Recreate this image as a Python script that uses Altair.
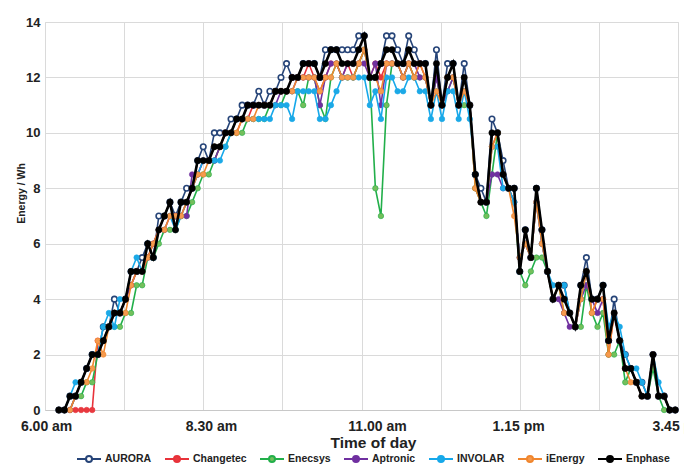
import altair as alt
import pandas as pd

# ---- data ----
series_names = ["AURORA", "Changetec", "Enecsys", "Aptronic", "INVOLAR", "iEnergy", "Enphase"]
line_colors = ["#264478", "#E8323A", "#22AF4A", "#7030A0", "#16A8EA", "#F0862E", "#000000"]
fill_colors = ["#FFFFFF", "#E8393F", "#74BF5C", "#7030A0", "#1CA9E6", "#F59A4E", "#000000"]

# category slot of each reading on the time axis (2 empty slots before the first)
slots = list(range(2, 114))

aurora = [0, 0, 0.5, 0.5, 1, 1.5, 2, 2, 3, 3,
          4, 3.5, 4, 5, 5, 5.5, 6, 5.5, 7, 7,
          7.5, 7, 7.5, 8, 8, 9, 9.5, 9, 10, 10,
          10, 10.5, 10.5, 11, 11, 11, 11.5, 11, 11.5, 11.5,
          12, 12.5, 12, 12, 12.5, 12.5, 12.5, 12, 13, 13,
          13, 13, 13, 13, 13.5, 13.5, 12, 12, 12.5, 13.5,
          13.5, 13, 12.5, 13.5, 13, 12.5, 12.5, 11, 13, 11,
          12.5, 12.5, 11, 12.5, 11, 8.5, 8, 7.5, 10.5, 10,
          9, 8, 8, 5, 6.5, 5.5, 8, 6.5, 5, 4,
          4.5, 4.5, 3.5, 3, 4.5, 5.5, 4, 4, 4.5, 2.5,
          4, 2.5, 2, 1.5, 1, 1, 0.5, 2, 0.5, 0.5,
          0, 0]
changetec = [0, 0, 0, 0, 0, 0, 0, 2.5, 2.5, 3,
             3.5, 3.5, 4, 4.5, 5, 5, 5.5, 6, 6.5, 7,
             7, 7, 7, 7.5, 8, 8.5, 9, 9, 9, 9.5,
             10, 10, 10, 10.5, 10.5, 11, 11, 11, 11, 11.5,
             11.5, 11.5, 12, 12, 12, 12.5, 12, 11.5, 12, 12.5,
             12.5, 12, 12.5, 12, 12.5, 13, 12, 12.5, 12, 12.5,
             12.5, 12.5, 12, 12.5, 12, 12.5, 12, 11, 12, 11,
             12, 12, 11, 11.5, 11, 8, 7.5, 7.5, 9.5, 10,
             8.5, 8, 7.5, 5.5, 6, 5.5, 7.5, 6, 5, 4,
             4.5, 4, 3.5, 3, 4, 5, 3.5, 4, 4, 2,
             3.5, 2.5, 1.5, 1.5, 1, 0.5, 0.5, 2, 0.5, 0.5,
             0, 0]
enecsys = [0, 0, 0, 0.5, 0.5, 1, 1, 2, 2.5, 3,
           3, 3, 3.5, 3.5, 4.5, 4.5, 5.5, 5.5, 6, 6.5,
           6.5, 6.5, 7, 7, 7.5, 8, 8.5, 8.5, 9, 9.5,
           9.5, 10, 10, 10, 10.5, 10.5, 10.5, 10.5, 11, 11,
           11, 11.5, 11.5, 11.5, 11, 12, 12, 11, 10.5, 12,
           12.5, 12, 12, 12, 12.5, 13, 12, 8, 7, 11,
           12.5, 12.5, 12, 12.5, 12, 12, 12, 11, 12, 11,
           11.5, 12, 11, 11, 11, 8, 7.5, 7, 8.5, 10,
           8.5, 8, 7.5, 5, 4.5, 5, 5.5, 5.5, 5, 4,
           4.5, 3.5, 3.5, 3, 3, 4.5, 3.5, 3, 3.5, 2,
           2, 2.5, 1, 1.5, 1, 0.5, 0.5, 1.5, 0.5, 0,
           0, 0]
aptronic = [0, 0, 0, 0.5, 1, 1.5, 2, 2, 2.5, 3,
            3.5, 3.5, 4, 4.5, 5, 5, 5.5, 6, 6.5, 6.5,
            7, 7, 7, 7, 8.5, 8.5, 9, 9, 9, 9.5,
            10, 10, 10.5, 10.5, 11, 11, 11, 11, 11, 11,
            11.5, 11.5, 11.5, 12, 12, 12, 12, 11, 12, 12.5,
            12.5, 12, 12.5, 12.5, 12.5, 12.5, 12, 12.5, 11, 12.5,
            12.5, 12.5, 12, 12.5, 12.5, 12, 12, 11, 12, 11,
            11.5, 12, 11, 11.5, 11, 8.5, 7.5, 7.5, 8.5, 8.5,
            8, 8, 7.5, 5.5, 6, 5.5, 7.5, 6, 5, 4,
            4, 3.5, 3, 3, 4, 4.5, 4, 3.5, 4, 2.5,
            3.5, 2.5, 1.5, 1.5, 1, 0.5, 0.5, 2, 0.5, 0.5,
            0, 0]
involar = [0, 0, 0.5, 1, 1, 1.5, 2, 2, 3, 3.5,
           3, 4, 4, 5, 5.5, 5, 6, 5.5, 6.5, 7,
           7, 6.5, 7, 7.5, 8, 8.5, 9, 9, 9, 9,
           9.5, 10, 10.5, 10.5, 10.5, 10.5, 10.5, 10.5, 10.5, 11,
           11, 11, 10.5, 11.5, 11.5, 11.5, 11.5, 10.5, 10.5, 11,
           11.5, 12, 12, 12, 12, 12, 11, 11.5, 10.5, 12,
           12, 11.5, 11.5, 12, 12, 11.5, 11.5, 10.5, 11.5, 10.5,
           11.5, 11.5, 10.5, 11.5, 10.5, 8.5, 7.5, 7.5, 9.5, 9.5,
           8, 8, 7.5, 5.5, 6, 5.5, 7.5, 6, 5, 4.5,
           4.5, 4.5, 3.5, 3, 4, 5, 4, 4, 4.5, 3,
           3.5, 3, 2, 1.5, 1.5, 1, 0.5, 2, 1, 0.5,
           0, 0]
ienergy = [0, 0, 0, 0.5, 1, 1, 1.5, 2.5, 2, 3,
           3.5, 3.5, 3.5, 4.5, 5, 5, 5.5, 6, 6.5, 6.5,
           7, 7, 7, 7.5, 8, 8.5, 8.5, 9, 9.5, 9.5,
           10, 10, 10, 10.5, 10.5, 10.5, 11, 11, 11, 11.5,
           11.5, 11.5, 11.5, 12, 12, 12, 12, 11.5, 12, 12,
           12.5, 12, 12, 12, 12.5, 13, 12, 12, 11.5, 12.5,
           12.5, 12.5, 12, 12.5, 12, 12.5, 12, 11, 11.5, 11,
           12, 12, 11, 11.5, 11, 8, 7.5, 7.5, 9.5, 10,
           8.5, 8, 7, 5.5, 6, 5.5, 7.5, 6, 5, 4,
           4.5, 3.5, 3.5, 3, 4, 5, 3.5, 4, 4, 2,
           3.5, 2.5, 1.5, 1, 1, 0.5, 0.5, 2, 0.5, 0.5,
           0, 0]
enphase = [0, 0, 0.5, 0.5, 1, 1.5, 2, 2, 2.5, 3,
           3.5, 3.5, 4, 5, 5, 5, 6, 5.5, 6.5, 7,
           7.5, 6.5, 7.5, 7.5, 8, 9, 9, 9, 9.5, 9.5,
           10, 10, 10.5, 10.5, 11, 11, 11, 11, 11, 11.5,
           11.5, 11.5, 12, 12, 12.5, 12.5, 12.5, 12, 12.5, 13,
           13, 12.5, 12.5, 12.5, 13, 13.5, 12, 12, 12.5, 13,
           13, 12.5, 12.5, 13, 12.5, 12.5, 12.5, 11, 12.5, 11,
           12, 12.5, 11, 12, 11, 8.5, 7.5, 7.5, 10, 10,
           8.5, 8, 8, 5, 6.5, 5.5, 8, 6.5, 5, 4,
           4.5, 4, 3.5, 3, 4.5, 5, 4, 4, 4.5, 2.5,
           3.5, 2.5, 1.5, 1.5, 1, 0.5, 0.5, 2, 0.5, 0.5,
           0, 0]

series_values = [aurora, changetec, enecsys, aptronic, involar, ienergy, enphase]

# axis tick labels
grid_slots = [-0.5, 13.75, 28, 42.25, 56.5, 70.75, 85, 99.25, 113.5]
label_slots = [-0.3, 29.4, 59.3, 84.7, 113.5]
label_texts = ["6.00 am", "8.30 am", "11.00 am", "1.15 pm", "3.45 pm"]
y_ticks = [0, 2, 4, 6, 8, 10, 12, 14]

FONT = "Liberation Sans"

label_map = "{" + ",".join("'%s':'%s'" % (repr(v), t) for v, t in zip(label_slots, label_texts)) + "}"

xscale = alt.Scale(domain=[-0.5, 113.5], nice=False, zero=False)
yscale = alt.Scale(domain=[0, 14], nice=False)

stroke_scale = alt.Scale(domain=series_names, range=line_colors)
fill_scale = alt.Scale(domain=series_names, range=fill_colors)

legend_path = "M-2,0L-0.5,0M0.5,0L2,0M0.5,0A0.5,0.5,0,1,1,-0.5,0A0.5,0.5,0,1,1,0.5,0Z"
legend_def = alt.Legend(
    orient="none", legendX=37, legendY=430, direction="horizontal", title=None,
    symbolType=legend_path, symbolSize=144, symbolStrokeWidth=2,
    labelFont=FONT, labelFontSize=10.5, labelFontWeight="bold", labelColor="#222222",
    labelOffset=9, columnPadding=9, padding=0,
)

x_axis = alt.Axis(
    values=label_slots, labelExpr=label_map + "[datum.value + '']",
    grid=False, ticks=False, domain=True, domainColor="#C8C8C8", domainWidth=1,
    labelFont=FONT, labelFontSize=14, labelFontWeight="bold", labelColor="#222222",
    labelPadding=9, labelOverlap=False, labelFlush=False, labelBound=False,
    title="Time of day", titleFont=FONT, titleFontSize=15.5, titleFontWeight="bold",
    titleColor="#222222", titleX=328, titleY=32, titleBaseline="middle", titleAlign="center",
)
y_axis = alt.Axis(
    values=y_ticks, grid=True, gridColor="#DADADA", gridWidth=1, ticks=False, domain=False,
    labelFont=FONT, labelFontSize=13, labelFontWeight="bold", labelColor="#222222",
    labelPadding=5,
    title="Energy / Wh", titleFont=FONT, titleFontSize=10.5, titleFontWeight="bold",
    titleColor="#222222", titleX=-24, titleY=171, titleBaseline="middle", titleAlign="center",
)

layers = []
for i, (name, vals) in enumerate(zip(series_names, series_values)):
    df = pd.DataFrame({"slot": slots, "energy": vals, "inverter": [name] * len(vals)})
    base = alt.Chart(df)
    x_enc = alt.X("slot:Q", scale=xscale, axis=x_axis)
    y_enc = alt.Y("energy:Q", scale=yscale, axis=y_axis)
    lw = 2.6 if name == "Enphase" else 1.6
    line = base.mark_line(strokeWidth=lw).encode(
        x=x_enc, y=y_enc,
        stroke=alt.Stroke("inverter:N", scale=stroke_scale, legend=legend_def),
    )
    if name == "AURORA":
        pts = base.mark_point(shape="circle", filled=True, opacity=1, size=30, strokeWidth=1.6)
    elif name == "Enphase":
        pts = base.mark_point(shape="circle", filled=True, opacity=1, size=40, strokeWidth=0.5)
    else:
        pts = base.mark_point(shape="circle", filled=True, opacity=1, size=30, strokeWidth=0.6)
    pts = pts.encode(
        x=x_enc, y=y_enc,
        stroke=alt.Stroke("inverter:N", scale=stroke_scale, legend=legend_def),
        fill=alt.Fill("inverter:N", scale=fill_scale, legend=legend_def),
    )
    layers += [line, pts]

series_layer = alt.layer(*layers)

grid_df = pd.DataFrame({"slot": grid_slots, "energy": [0] * len(grid_slots)})
grid_layer = alt.Chart(grid_df).mark_point(opacity=0).encode(
    x=alt.X("slot:Q", scale=xscale, axis=alt.Axis(
        orient="top", values=grid_slots, grid=True, gridColor="#DADADA", gridWidth=1,
        labels=False, ticks=False, domain=False, title=None)),
    y=alt.Y("energy:Q", scale=yscale, axis=None),
)

chart = alt.layer(grid_layer, series_layer).resolve_axis(
    x="independent", y="independent"
).properties(
    width=633, height=388,
    autosize=alt.AutoSizeParams(type="none"),
    padding={"left": 37, "top": 14, "right": 6, "bottom": 54},
).configure_view(stroke=None).configure(background="white")

chart.save("out.html", embed_options={"renderer": "svg", "actions": False})
